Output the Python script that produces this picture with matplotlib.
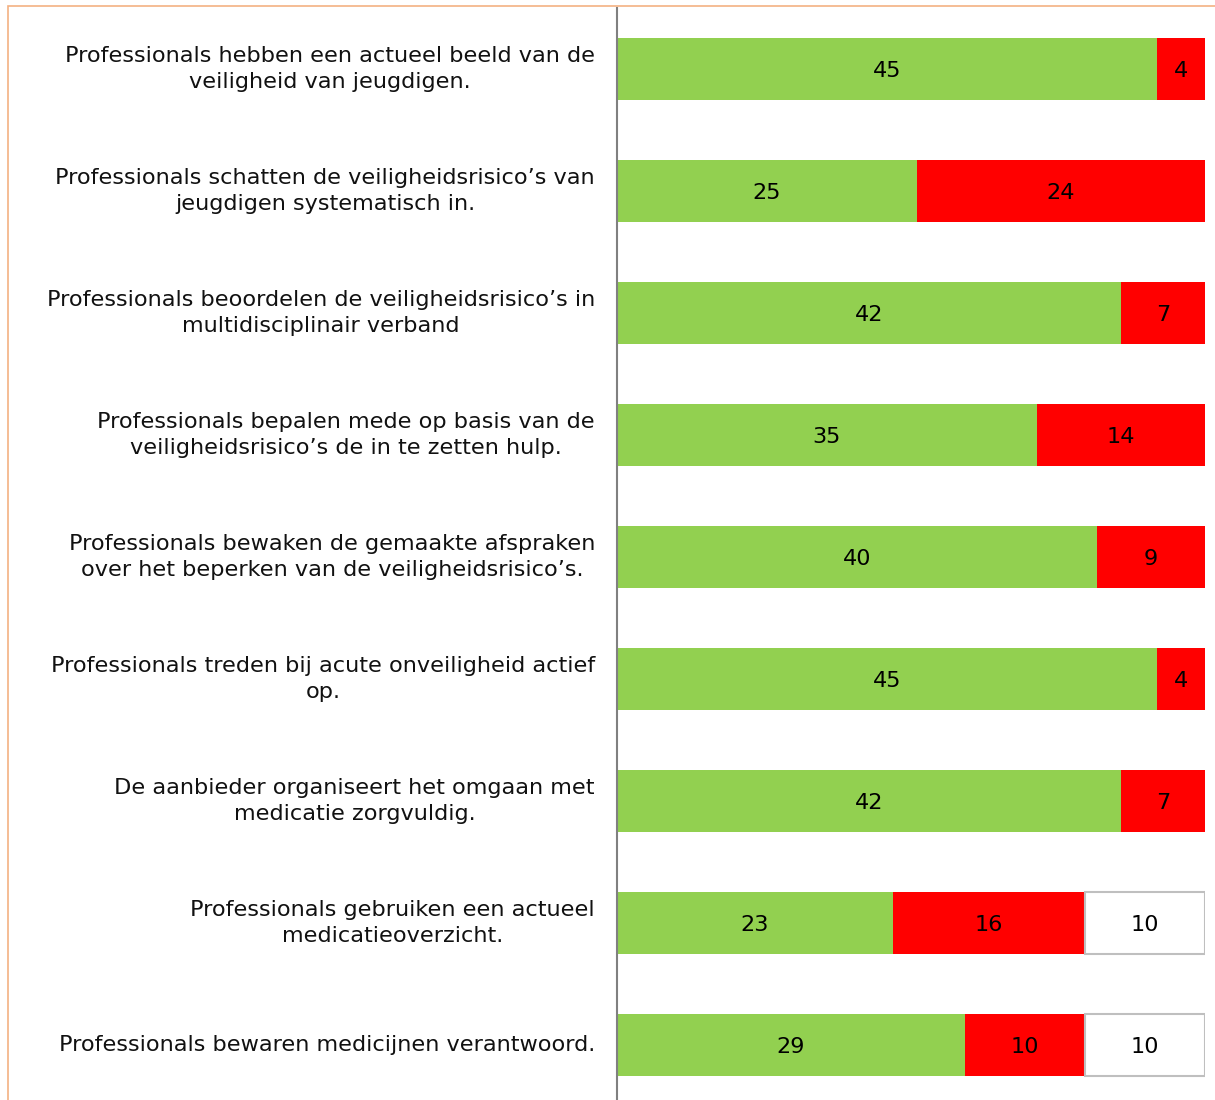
import numpy as np
import matplotlib
matplotlib.use('Agg')
from matplotlib import pyplot as plt
from matplotlib.patches import Rectangle

labels = [
    'Professionals hebben een actueel beeld van de\nveiligheid van jeugdigen.',
    'Professionals schatten de veiligheidsrisico\u2019s van\njeugdigen systematisch in.',
    'Professionals beoordelen de veiligheidsrisico\u2019s in\nmultidisciplinair verband',
    'Professionals bepalen mede op basis van de\nveiligheidsrisico\u2019s de in te zetten hulp.',
    'Professionals bewaken de gemaakte afspraken\nover het beperken van de veiligheidsrisico\u2019s.',
    'Professionals treden bij acute onveiligheid actief\nop.',
    'De aanbieder organiseert het omgaan met\nmedicatie zorgvuldig.',
    'Professionals gebruiken een actueel\nmedicatieoverzicht.',
    'Professionals bewaren medicijnen verantwoord.',
]
ja = [45, 25, 42, 35, 40, 45, 42, 23, 29]
nee = [4, 24, 7, 14, 9, 4, 7, 16, 10]
nvt = [0, 0, 0, 0, 0, 0, 0, 10, 10]

W, H = 1215, 1100
fig = plt.figure(figsize=(W / 100, H / 100), dpi=100)

# oranje kader (rechts en onder afgesneden)
fig.patches.append(Rectangle((8 / W, -0.1), 1.2, 1 - 6 / H + 0.1, transform=fig.transFigure,
                             fill=False, edgecolor='#F4B183', linewidth=1.2))

ax = fig.add_axes([617 / W, 0, (1205 - 617) / W, (H - 8) / H])
y = np.arange(len(labels))
h = 0.508
fs = 16.1

ax.barh(y, ja, height=h, color='#92D050', edgecolor='none')
ax.barh(y, nee, left=ja, height=h, color='#FF0000', edgecolor='none')
left3 = np.array(ja) + np.array(nee)
for i in range(len(labels)):
    if nvt[i] > 0:
        ax.barh(y[i], nvt[i], left=left3[i], height=h, color='white', edgecolor='#BFBFBF', linewidth=1.5)

for i in range(len(labels)):
    ax.text(ja[i] / 2, y[i] + 0.015, str(ja[i]), ha='center', va='center', fontsize=fs)
    ax.text(ja[i] + nee[i] / 2, y[i] + 0.015, str(nee[i]), ha='center', va='center', fontsize=fs)
    if nvt[i] > 0:
        ax.text(left3[i] + nvt[i] / 2, y[i] + 0.015, str(nvt[i]), ha='center', va='center', fontsize=fs)
    ax.text(-22 / 12, y[i], labels[i], ha='right', va='center', multialignment='center',
            fontsize=fs, linespacing=1.35, color='#111111')

ax.set_xlim(0, 49)
ax.set_ylim(8.45, -0.5)
ax.set_xticks([])
ax.set_yticks([])
for s in ['top', 'right', 'bottom']:
    ax.spines[s].set_visible(False)
ax.spines['left'].set_color('#808080')
ax.spines['left'].set_linewidth(1.5)

plt.savefig('out.png', dpi=100)
